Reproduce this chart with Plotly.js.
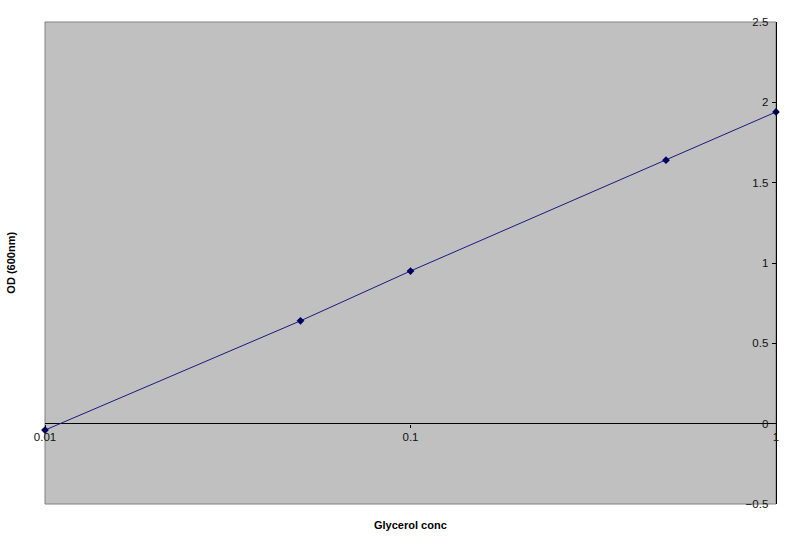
<!DOCTYPE html>
<html>
<head>
<meta charset="utf-8">
<script src="https://cdn.plot.ly/plotly-3.0.1.min.js"></script>
<style>
  html, body { margin: 0; padding: 0; background: #fff; }
  #chart { width: 800px; height: 547px; }
</style>
</head>
<body>
<div id="chart"></div>
<script>
// glycerol concentration vs OD at 600nm
const glycerol = [0.01, 0.05, 0.1, 0.5, 1];
const od600 = [-0.04, 0.64, 0.95, 1.64, 1.94];
const xTicks = [0.01, 0.1, 1];
const xTickText = ["0.01", "0.1", "1"];
const yTicks = [-0.5, 0, 0.5, 1, 1.5, 2, 2.5];

const font = "Liberation Sans, Arial, sans-serif";

const trace = {
  x: glycerol,
  y: od600,
  type: "scatter",
  mode: "lines+markers",
  line: { color: "#1a1a80", width: 1 },
  marker: { symbol: "diamond", size: 6, color: "#000060" },
  cliponaxis: false,
  showlegend: false,
};

const layout = {
  width: 800,
  height: 547,
  margin: { l: 45, r: 24, t: 22, b: 43 },
  paper_bgcolor: "#ffffff",
  plot_bgcolor: "#c0c0c0",
  font: { family: font, size: 11, color: "#000" },
  xaxis: {
    type: "log",
    range: [-2, 0],
    tickvals: xTicks,
    ticktext: xTickText,
    anchor: "free",
    position: 1 / 6,
    showline: false,
    showgrid: false,
    zeroline: false,
    ticks: "outside",
    ticklen: 3,
    tickcolor: "#000",
    ticklabeloverflow: "allow",
    tickfont: { family: font, size: 11.5, color: "#111" },
  },
  yaxis: {
    range: [-0.5, 2.5],
    tickvals: yTicks,
    side: "right",
    ticklabelposition: "inside",
    ticklabeloverflow: "allow",
    ticklabelstandoff: 3,
    ticks: "inside",
    ticklen: 4,
    tickcolor: "#000",
    showline: true,
    linecolor: "#000",
    linewidth: 1,
    showgrid: false,
    zeroline: true,
    zerolinecolor: "#000",
    zerolinewidth: 1,
    tickfont: { family: font, size: 11.5, color: "#111" },
  },
  shapes: [
    {
      type: "rect", xref: "paper", yref: "paper",
      x0: 0, x1: 1, y0: 0, y1: 1,
      line: { color: "#808080", width: 1 },
      layer: "below",
    },
  ],
  annotations: [
    {
      text: "<b>Glycerol conc</b>",
      xref: "paper", yref: "paper",
      x: 0.5, y: -0.028, yanchor: "top", xanchor: "center",
      showarrow: false,
      font: { family: font, size: 11, color: "#000" },
    },
    {
      text: "<b>OD (600nm)</b>",
      xref: "paper", yref: "paper",
      x: -0.047, y: 0.5, xanchor: "center", yanchor: "middle",
      textangle: -90,
      showarrow: false,
      font: { family: font, size: 11, color: "#000" },
    },
  ],
};

Plotly.newPlot("chart", [trace], layout, { displayModeBar: false, displaylogo: false });
</script>
</body>
</html>
